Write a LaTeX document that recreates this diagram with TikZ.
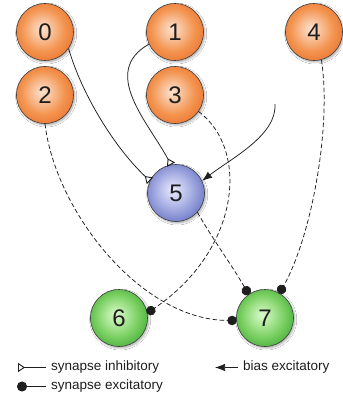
\documentclass[tikz,border=0pt]{standalone}
\usepackage{fontspec}
\setmainfont{Liberation Sans}
\usetikzlibrary{arrows.meta,shadows.blur}

% neuron colours, from the lit centre out to the rim of each ball
\definecolor{oA}{HTML}{FCE2CE}
\definecolor{oB}{HTML}{F9C29C}
\definecolor{oC}{HTML}{F3944F}
\definecolor{oD}{HTML}{EB7632}
\definecolor{oE}{HTML}{DC5E1C}
\definecolor{bA}{HTML}{E8EAFB}
\definecolor{bB}{HTML}{C8CCF0}
\definecolor{bC}{HTML}{98A0DC}
\definecolor{bD}{HTML}{6A76C4}
\definecolor{bE}{HTML}{5260AE}
\definecolor{gA}{HTML}{DAF7CE}
\definecolor{gB}{HTML}{B2EA9E}
\definecolor{gC}{HTML}{78CF60}
\definecolor{gD}{HTML}{4AB03E}
\definecolor{gE}{HTML}{369E2E}
\definecolor{ink}{HTML}{1E1E1E}

% the rim of a circular node falls at about 35bp of the shading
\pgfdeclareradialshading{orangeball}{\pgfpoint{-3bp}{3bp}}{%
  color(0bp)=(oA); color(8bp)=(oB); color(19bp)=(oC); color(29bp)=(oD);
  color(36bp)=(oE); color(50bp)=(oE)}
\pgfdeclareradialshading{blueball}{\pgfpoint{-3bp}{3bp}}{%
  color(0bp)=(bA); color(8bp)=(bB); color(19bp)=(bC); color(29bp)=(bD);
  color(36bp)=(bE); color(50bp)=(bE)}
\pgfdeclareradialshading{greenball}{\pgfpoint{-3bp}{3bp}}{%
  color(0bp)=(gA); color(8bp)=(gB); color(19bp)=(gC); color(29bp)=(gD);
  color(36bp)=(gE); color(50bp)=(gE)}

\begin{document}
\begin{tikzpicture}[x=1pt,y=-1pt,
  neuron/.style={circle, minimum size=57pt, inner sep=0pt,
    draw=ink!85, line width=0.6pt, text=ink,
    font=\fontsize{24}{24}\selectfont,
    blur shadow={shadow xshift=1.2pt, shadow yshift=-1.5pt,
      shadow blur radius=2pt, shadow blur steps=6, shadow opacity=35}},
  input/.style={neuron, shading=orangeball},
  hidden/.style={neuron, shading=blueball},
  output/.style={neuron, shading=greenball},
  link/.style={draw=ink, line width=0.75pt},
  inhib/.style={link, -{Triangle[open, reversed, length=7pt, width=9pt, line width=0.9pt]}},
  excit/.style={link, dash pattern=on 4.5pt off 2.5pt,
    -{Circle[length=9.5pt, sep=-0.5pt]}},
  excitsolid/.style={link, -{Circle[length=10pt]}},
  bias/.style={link, -{Latex[length=10pt, width=7.5pt]}},
  legend/.style={anchor=west, inner xsep=5pt, inner ysep=0pt, text=ink,
    font=\fontsize{13.5}{14}\selectfont}]

  \fill[white] (0,0) rectangle (341,401);

  % input layer
  \node[input] (n0) at (45,32) {0};
  \node[input] (n1) at (175,32) {1};
  \node[input] (n4) at (314,32) {4};
  \node[input] (n2) at (45,95) {2};
  \node[input] (n3) at (175,95) {3};
  % hidden neuron
  \node[hidden] (n5) at (176,193) {5};
  % output layer
  \node[output] (n6) at (119,318) {6};
  \node[output] (n7) at (265,318) {7};

  % free end of the bias input
  \coordinate (b5) at (275,104);

  % inhibitory synapses
  \draw[inhib] (n0.-35) .. controls (82,95) and (115,148) .. (n5.155);
  \draw[inhib] (n1.205) .. controls (100,72) and (148,122) .. (n5.100);
  % bias
  \draw[bias] (b5) .. controls (277,135) and (232,158) .. (n5.25);
  % excitatory synapses
  \draw[excit] (n3.-35) .. controls (250,150) and (240,250) .. (n6.10);
  \draw[excit] (n2.-90) .. controls (55,210) and (140,320) .. (n7.185);
  \draw[excit] (n5.-42) .. controls (210,235) and (235,270) .. (n7.125);
  \draw[excit] (n4.-75) .. controls (332,130) and (310,240) .. (n7.60);

  % legend
  \node[legend] (linh) at (46,367.5) {synapse inhibitory};
  \node[legend] (lexc) at (46,386.5) {synapse excitatory};
  \node[legend] (lbias) at (238,367.5) {bias excitatory};
  \coordinate (kinh) at (18,367.5);
  \coordinate (kexc) at (17,386.5);
  \coordinate (kbias) at (215,367.5);
  \draw[inhib] (linh.west) -- (kinh);
  \draw[excitsolid] (lexc.west) -- (kexc);
  \draw[bias] (lbias.west) -- (kbias);
\end{tikzpicture}
\end{document}
